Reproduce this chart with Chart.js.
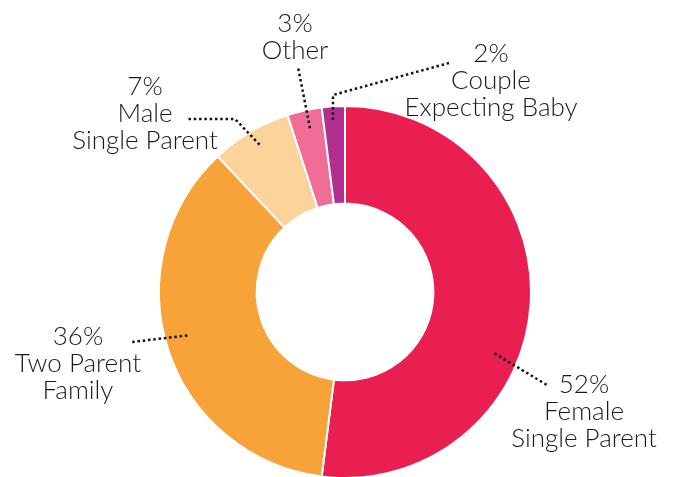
<!DOCTYPE html>
<html>
<head>
<meta charset="utf-8">
<script src="https://cdn.jsdelivr.net/npm/chart.js@4.4.0/dist/chart.umd.min.js"></script>
<style>
  html, body { margin: 0; padding: 0; background: #fff; overflow: hidden; }
  #contenedor { position: relative; width: 677px; height: 480px; }
</style>
</head>
<body>
<div id="contenedor"><canvas id="grafico-familias"></canvas></div>
<script>
// datos del grafico
const categorias = [["Female", "Single Parent"], ["Two Parent", "Family"], ["Male", "Single Parent"], ["Other"], ["Couple", "Expecting Baby"]];
const porcentajes = [52, 36, 7, 3, 2];
const colores = ["#e91f51", "#f8a23a", "#fdd39c", "#f06d97", "#b12f8e"];

// posicion de las etiquetas y lineas punteadas (t = fraccion del arco, f = fraccion del grosor)
const etiquetas = [
    { t: 0.60, f: 0.75, via: [[547, 385]], texto: [584, 393] },
    { t: 0.52, f: 0.77, via: [[132, 342]], texto: [78, 345] },
    { t: 0.52, f: 0.84, via: [[235, 119], [187, 119]], texto: [145, 95] },
    { t: 0.55, f: 0.81, via: [[298, 67]], texto: [295, 32] },
    { t: 0.44, f: 0.86, via: [[333, 95], [449, 63]], texto: [491, 62] }
];

const pluginEtiquetas = {
    id: "etiquetas",
    afterDraw(chart) {
        const ctx = chart.ctx;
        const arcos = chart.getDatasetMeta(0).data;
        ctx.save();
        arcos.forEach(function(arco, i) {
            const p = arco.getProps(["x", "y", "startAngle", "endAngle", "innerRadius", "outerRadius"], true);
            const e = etiquetas[i];
            const ang = p.startAngle + e.t * (p.endAngle - p.startAngle);
            const r = p.innerRadius + e.f * (p.outerRadius - p.innerRadius);
            const puntos = [[p.x + Math.cos(ang) * r, p.y + Math.sin(ang) * r]].concat(e.via);

            ctx.strokeStyle = "#111";
            ctx.lineWidth = 2.5;
            ctx.setLineDash([2.5, 2.8]);
            ctx.beginPath();
            ctx.moveTo(puntos[0][0], puntos[0][1]);
            for (let k = 1; k < puntos.length; k++) ctx.lineTo(puntos[k][0], puntos[k][1]);
            ctx.stroke();

            ctx.setLineDash([]);
            ctx.fillStyle = "#1a1a1a";
            ctx.font = "300 26px Lato";
            ctx.textAlign = "center";
            ctx.textBaseline = "alphabetic";
            const lineas = [porcentajes[i] + "%"].concat(categorias[i]);
            lineas.forEach(function(linea, j) {
                ctx.fillText(linea, e.texto[0], e.texto[1] + j * 27);
            });
        });
        ctx.restore();
    }
};

let ctx = document.getElementById("grafico-familias").getContext("2d");

new Chart(ctx, {
    type: "doughnut",
    data: {
        labels: categorias.map(c => c.join(" ")),
        datasets: [{
            data: porcentajes,
            backgroundColor: colores,
            borderColor: "#fff",
            borderWidth: 2,
            hoverOffset: 0
        }]
    },
    options: {
        responsive: true,
        maintainAspectRatio: false,
        animation: false,
        cutout: "47.5%",
        layout: { padding: { top: 105, bottom: 1, left: 13, right: 0 } },
        plugins: {
            legend: { display: false },
            tooltip: { enabled: false }
        }
    },
    plugins: [pluginEtiquetas]
});
</script>
</body>
</html>
